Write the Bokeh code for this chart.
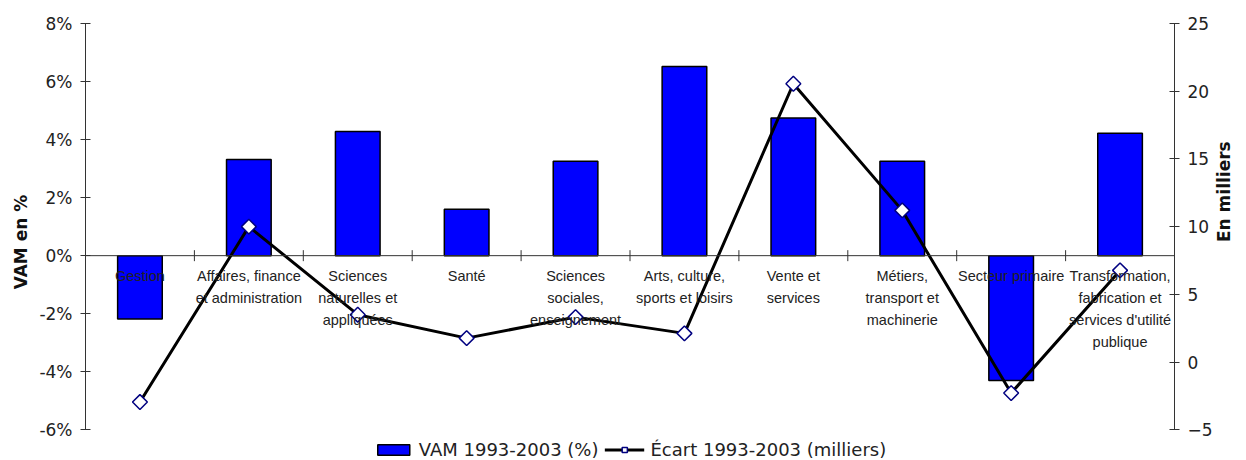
import math
from bokeh.plotting import figure
from bokeh.models import (Range1d, LinearAxis, FixedTicker, PrintfTickFormatter, Span,
                          Legend, LegendItem, ColumnDataSource)
from bokeh.core.properties import value
from bokeh.embed import file_html
from bokeh.resources import INLINE

categories = ["Gestion", "Affaires, finance\net administration", "Sciences\nnaturelles et\nappliquées",
              "Santé", "Sciences\nsociales,\nenseignement", "Arts, culture,\nsports et loisirs",
              "Vente et\nservices", "Métiers,\ntransport et\nmachinerie", "Secteur primaire",
              "Transformation,\nfabrication et\nservices d'utilité\npublique"]
vam_pct = [-2.18, 3.31, 4.28, 1.60, 3.25, 6.52, 4.74, 3.25, -4.30, 4.22]
ecart_milliers = [-2.95, 10.0, 3.5, 1.77, 3.32, 2.12, 20.55, 11.2, -2.29, 6.77]
left_ticks = [-6, -4, -2, 0, 2, 4, 6, 8]
right_ticks = [-5, 0, 5, 10, 15, 20, 25]

n = len(categories)
xc = [i + 0.5 for i in range(n)]
bounds_x = [i for i in range(1, n)]

left_start = -7.058
right_start = -5 + (left_start + 6) * 30 / 14

TICK_FONT = "DejaVu Sans"

p = figure(width=1246, height=460, output_backend="svg", toolbar_location=None,
           x_range=Range1d(0, n), y_range=Range1d(left_start, 8),
           x_axis_location=None,
           min_border_left=85, min_border_right=62, min_border_top=23, min_border_bottom=0)
p.outline_line_color = None
p.xgrid.visible = False
p.ygrid.visible = False
p.background_fill_color = "white"

def style_axis(ax):
    ax.major_tick_in = 5
    ax.major_tick_out = 5
    ax.minor_tick_line_color = None
    ax.axis_line_color = "#333333"
    ax.major_tick_line_color = "#333333"
    ax.major_label_text_font = TICK_FONT
    ax.major_label_text_font_size = "17px"
    ax.major_label_text_color = "#222222"
    ax.major_label_standoff = 8
    ax.axis_label_text_font = TICK_FONT
    ax.axis_label_text_font_style = "bold"
    ax.axis_label_text_font_size = "17px"
    ax.axis_label_text_color = "#111111"
    ax.axis_label_standoff = 8

ya = p.yaxis[0]
ya.ticker = FixedTicker(ticks=left_ticks)
ya.formatter = PrintfTickFormatter(format="%d%%")
ya.bounds = (-6, 8)
ya.axis_label = "VAM en %"
style_axis(ya)
ya.axis_label_standoff = 5

p.extra_y_ranges = {"right": Range1d(right_start, 25)}
ra = LinearAxis(y_range_name="right", ticker=FixedTicker(ticks=right_ticks), bounds=(-5, 25),
                axis_label="En milliers")
style_axis(ra)
try:
    ra.axis_label_orientation = math.pi / 2
except Exception:
    pass
p.add_layout(ra, "right")

src = ColumnDataSource(dict(x=xc, vam=vam_pct, ecart=ecart_milliers, cat=categories))

bars = p.vbar(x="x", top="vam", bottom=0, width=0.41, source=src,
              fill_color="#0000FF", line_color="black", line_width=1.5)

p.add_layout(Span(location=0, dimension="width", line_color="#333333", line_width=1))
p.scatter(x=bounds_x, y=[0] * len(bounds_x), marker="dash", angle=math.pi / 2, size=11,
          line_color="#333333", line_width=1)

line = p.line(x="x", y="ecart", source=src, y_range_name="right", line_color="black", line_width=3)
pts = p.scatter(x="x", y="ecart", source=src, y_range_name="right", marker="square",
                angle=math.pi / 4, size=10.5, fill_color="white", line_color="#000080", line_width=1.5)

p.text(x="x", y=0, text="cat", source=src, text_align="center", text_baseline="top",
       y_offset=12, text_font=value("Liberation Sans"), text_font_size="14.5px",
       text_color="#222222", text_line_height=1.38)

legend = Legend(items=[LegendItem(label="VAM 1993-2003 (%)", renderers=[bars]),
                       LegendItem(label="Écart 1993-2003 (milliers)", renderers=[line, pts])],
                location="bottom_center", orientation="horizontal")
legend.margin = 0
legend.padding = 0
legend.spacing = 6
legend.label_standoff = 6
legend.glyph_width = 40
legend.glyph_height = 13
legend.label_height = 18
legend.label_text_font = TICK_FONT
legend.label_text_font_size = "18px"
legend.label_text_color = "#222222"
legend.border_line_color = None
legend.background_fill_alpha = 0
p.add_layout(legend)

open("out.html", "w").write(file_html(p, INLINE))
